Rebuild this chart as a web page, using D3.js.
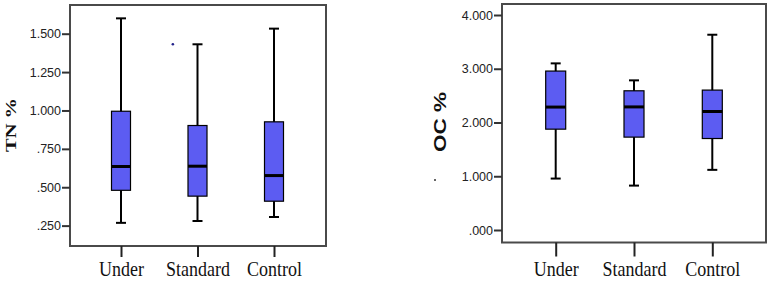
<!DOCTYPE html>
<html><head><meta charset="utf-8">
<script src="https://cdn.jsdelivr.net/npm/d3@7"></script>
<style>body{margin:0;background:#fff}svg{display:block}</style>
</head><body>
<svg id="c" width="768" height="281"></svg>
<script>
const categories = ["Under", "Standard", "Control"];
// [min, q1, median, q3, max]
const tnStats = [
  [0.268, 0.480, 0.635, 0.995, 1.600],
  [0.280, 0.442, 0.637, 0.902, 1.431],
  [0.306, 0.409, 0.576, 0.926, 1.533]
];
const ocStats = [
  [0.957, 1.876, 2.287, 2.957, 3.100],
  [0.826, 1.728, 2.290, 2.590, 2.784],
  [1.119, 1.702, 2.205, 2.603, 3.633]
];
const tnTicks = [0.25, 0.5, 0.75, 1.0, 1.25, 1.5];
const ocTicks = [0, 1, 2, 3, 4];
const tnStray = [{cat: "Standard", offset: -0.32, v: 1.431}];

const SERIF = "'Liberation Serif', 'Times New Roman', serif";
const SANS = "'Liberation Sans', Arial, sans-serif";
const svg = d3.select("#c");
const fmt = v => { const s = d3.format(".3f")(v); return s.startsWith("0") ? s.slice(1) : s; };

function panel(cfg) {
  const g = svg.append("g");
  const y = d3.scaleLinear().domain(cfg.domain).range(cfg.yRange);
  const x = d3.scalePoint().domain(categories).range(cfg.xCenters);
  const boxW = cfg.boxW;
  g.append("rect").attr("x", cfg.frame[0]).attr("y", cfg.frame[1])
    .attr("width", cfg.frame[2] - cfg.frame[0]).attr("height", cfg.frame[3] - cfg.frame[1])
    .attr("fill", "none").attr("stroke", "#4a4a4a").attr("stroke-width", 2);
  const ya = g.append("g").attr("transform", `translate(${cfg.frame[0]},0)`)
    .call(d3.axisLeft(y).tickValues(cfg.ticks).tickFormat(fmt).tickSize(8).tickPadding(1));
  ya.attr("font-family", null);
  ya.select(".domain").remove();
  ya.selectAll("line").attr("stroke", "#333").attr("stroke-width", 2);
  ya.selectAll("text").style("font-family", SANS)
    .style("font-size", "12.5px").attr("fill", "#222");
  const xa = g.append("g").attr("transform", `translate(0,${cfg.frame[3]})`)
    .call(d3.axisBottom(x).tickSize(cfg.xTick));
  xa.attr("font-family", null);
  xa.select(".domain").remove();
  xa.selectAll("line").attr("stroke", "#222").attr("stroke-width", 2);
  xa.selectAll("text").attr("y", 0).attr("dy", 0)
    .attr("transform", `translate(0,${276.3 - cfg.frame[3]}) scale(1,1.15)`)
    .style("font-family", SERIF).style("font-size", "18px").attr("fill", "#111");
  g.append("text").attr("transform", `translate(${cfg.titleX},${cfg.titleY}) rotate(-90)`)
    .attr("text-anchor", "middle").attr("dy", "0.35em")
    .attr("textLength", cfg.titleLen).attr("lengthAdjust", "spacingAndGlyphs")
    .style("font-family", cfg.titleFont).style("font-weight", "bold").style("font-size", cfg.titleSize)
    .attr("fill", "#111").text(cfg.title);
  const b = g.selectAll(".bx").data(cfg.stats).enter().append("g");
  b.append("line").attr("x1", (d, i) => x(categories[i])).attr("x2", (d, i) => x(categories[i]))
    .attr("y1", d => y(d[0])).attr("y2", d => y(d[4])).attr("stroke", "#000").attr("stroke-width", 2);
  b.append("line").attr("x1", (d, i) => x(categories[i]) - 5).attr("x2", (d, i) => x(categories[i]) + 5)
    .attr("y1", d => y(d[0])).attr("y2", d => y(d[0])).attr("stroke", "#000").attr("stroke-width", 2);
  b.append("line").attr("x1", (d, i) => x(categories[i]) - 5).attr("x2", (d, i) => x(categories[i]) + 5)
    .attr("y1", d => y(d[4])).attr("y2", d => y(d[4])).attr("stroke", "#000").attr("stroke-width", 2);
  b.append("rect").attr("x", (d, i) => x(categories[i]) - boxW / 2).attr("width", boxW)
    .attr("y", d => y(d[3])).attr("height", d => y(d[1]) - y(d[3]))
    .attr("fill", "#5c5cf2").attr("stroke", "#000").attr("stroke-width", 1.2);
  b.append("line").attr("x1", (d, i) => x(categories[i]) - boxW / 2).attr("x2", (d, i) => x(categories[i]) + boxW / 2)
    .attr("y1", d => y(d[2])).attr("y2", d => y(d[2])).attr("stroke", "#000").attr("stroke-width", 3);
  return {x, y, g};
}

const left = panel({
  stats: tnStats, domain: [0, 1.5], yRange: [264.0, 33.7], ticks: tnTicks,
  xCenters: [121, 274], frame: [70, 5, 326, 246], boxW: 19, xTick: 11,
  title: "TN %", titleX: 10.5, titleY: 125, titleLen: 54, titleSize: "15px", titleFont: SERIF
});
left.g.selectAll(".stray").data(tnStray).enter().append("circle")
  .attr("cx", d => left.x(d.cat) + d.offset * 77).attr("cy", d => left.y(d.v))
  .attr("r", 1.3).attr("fill", "#22228a");

const right = panel({
  stats: ocStats, domain: [0, 4], yRange: [230, 15], ticks: ocTicks,
  xCenters: [555.7, 712.3], frame: [502, 4, 766, 242.5], boxW: 20, xTick: 14,
  title: "OC %", titleX: 440.5, titleY: 122, titleLen: 60, titleSize: "17px", titleFont: SANS
});
right.g.append("circle").attr("cx", 435).attr("cy", right.y(0.93)).attr("r", 1).attr("fill", "#333");
</script>
</body></html>
